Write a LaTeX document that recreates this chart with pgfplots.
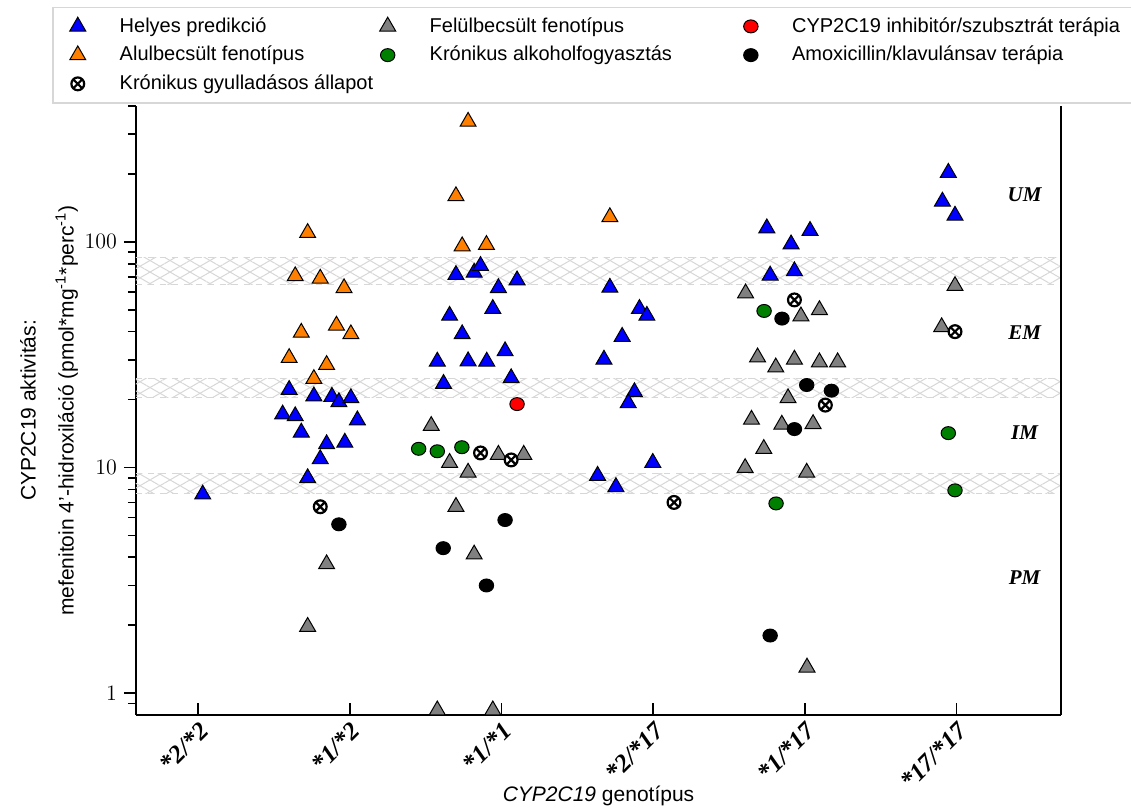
\documentclass[border=0pt]{standalone}
\usepackage{pgfplots}
\pgfplotsset{compat=1.18}
\usepackage{fontspec}
\setsansfont{Liberation Sans}
\newfontfamily\tserif{Liberation Serif}
\usetikzlibrary{patterns.meta}
\definecolor{cblue}{RGB}{0,0,255}
\definecolor{corange}{RGB}{255,128,0}
\definecolor{cgray}{RGB}{128,128,128}
\definecolor{cgreen}{RGB}{0,128,0}
\definecolor{cred}{RGB}{255,0,0}
\definecolor{bandc}{RGB}{215,215,215}
\begin{document}
\begin{tikzpicture}
\begin{axis}[
  scale only axis, width=462.5pt, height=304.5pt,
  ymode=log, ymin=0.8, ymax=400,
  xmin=-0.41, xmax=5.69,
  clip=false,
  axis x line*=bottom, axis y line*=left,
  axis line style={-, line width=1pt},
  xtick={0,1,2,3,4,5},
  xticklabels={*2/*2,*1/*2,*1/*1,*2/*17,*1/*17,*17/*17},
  xticklabel style={rotate=45, anchor=north east, font=\tserif\bfseries\itshape\fontsize{12.5}{14}\selectfont, inner sep=2pt},
  xtick align=inside, ytick align=outside,
  major tick length=6pt, minor tick length=4pt,
  every tick/.style={black, line width=0.8pt},
  ytick={1,10,100}, yticklabels={1,10,100},
  minor ytick={0.9,2,3,4,5,6,7,8,9,20,30,40,50,60,70,80,90,200,300,400},
  yticklabel style={font=\fontsize{11}{13}\selectfont},
  xlabel={\textit{CYP2C19} genotípus},
  xlabel style={at={(axis description cs:0.5,-0.133)}, anchor=center, font=\sffamily\fontsize{10.5}{12}\selectfont},
  ylabel={CYP2C19 aktivitás:\\mefenitoin 4'-hidroxiláció (pmol*mg\textsuperscript{-1}*perc\textsuperscript{-1})},
  ylabel style={at={(axis description cs:-0.094,0.5)}, anchor=center, align=center, font=\sffamily\fontsize{10.5}{19}\selectfont},
  legend columns=3,
  legend cell align=left,
  legend style={at={(axis description cs:-0.0908,1.163)}, anchor=north west, draw=bandc, line width=0.8pt,
    font=\sffamily\fontsize{10}{12}\selectfont, row sep=1.5pt, inner ysep=3pt, inner xsep=8.5pt,
    /tikz/every odd column/.append style={column sep=15pt}},
]
% bands
\addplot[draw=none, pattern={Lines[angle=30,distance=5pt,line width=0.5pt]}, pattern color=bandc, forget plot] coordinates {(-0.41,64.5) (5.69,64.5) (5.69,84.9) (-0.41,84.9)} -- cycle;
\addplot[draw=none, pattern={Lines[angle=-30,distance=5pt,line width=0.5pt]}, pattern color=bandc, forget plot] coordinates {(-0.41,64.5) (5.69,64.5) (5.69,84.9) (-0.41,84.9)} -- cycle;
\addplot[draw=bandc, dashed, line width=0.6pt, forget plot] coordinates {(-0.41,64.5) (5.69,64.5)};
\addplot[draw=bandc, dashed, line width=0.6pt, forget plot] coordinates {(-0.41,84.9) (5.69,84.9)};
\addplot[draw=none, pattern={Lines[angle=30,distance=5pt,line width=0.5pt]}, pattern color=bandc, forget plot] coordinates {(-0.41,20.4) (5.69,20.4) (5.69,24.8) (-0.41,24.8)} -- cycle;
\addplot[draw=none, pattern={Lines[angle=-30,distance=5pt,line width=0.5pt]}, pattern color=bandc, forget plot] coordinates {(-0.41,20.4) (5.69,20.4) (5.69,24.8) (-0.41,24.8)} -- cycle;
\addplot[draw=bandc, dashed, line width=0.6pt, forget plot] coordinates {(-0.41,20.4) (5.69,20.4)};
\addplot[draw=bandc, dashed, line width=0.6pt, forget plot] coordinates {(-0.41,24.8) (5.69,24.8)};
\addplot[draw=none, pattern={Lines[angle=30,distance=5pt,line width=0.5pt]}, pattern color=bandc, forget plot] coordinates {(-0.41,7.7) (5.69,7.7) (5.69,9.37) (-0.41,9.37)} -- cycle;
\addplot[draw=none, pattern={Lines[angle=-30,distance=5pt,line width=0.5pt]}, pattern color=bandc, forget plot] coordinates {(-0.41,7.7) (5.69,7.7) (5.69,9.37) (-0.41,9.37)} -- cycle;
\addplot[draw=bandc, dashed, line width=0.6pt, forget plot] coordinates {(-0.41,7.7) (5.69,7.7)};
\addplot[draw=bandc, dashed, line width=0.6pt, forget plot] coordinates {(-0.41,9.37) (5.69,9.37)};

% Helyes predikcio (blue)
\addplot[only marks, mark=triangle*, mark size=4.6pt, mark options={fill=cblue, draw=black, line width=0.5pt}] coordinates {
(0.03,7.6)
(0.60,22.1) (0.763,20.7) (0.882,20.6) (0.928,19.5) (1.007,20.3) (0.557,17.2) (0.64,16.9) (1.05,16.2)
(0.68,14.3) (0.847,12.7) (0.967,12.9) (0.805,10.9) (0.722,8.98)
(1.70,71.4) (1.82,73.1) (1.862,78.3) (2.103,67.6) (1.98,62.5) (1.943,50.5) (1.658,47.1) (1.741,39.0)
(2.024,32.8) (1.577,29.5) (1.78,29.6) (1.903,29.5) (2.064,24.9) (1.618,23.5)
(2.715,62.7) (2.91,50.5) (2.959,47.1) (2.796,38.0) (2.676,30.1) (2.877,21.6) (2.836,19.3) (2.998,10.5) (2.634,9.2) (2.755,8.2)
(3.75,115) (4.035,112) (3.91,97.6) (3.772,71) (3.932,74.2)
(4.947,202.6) (4.908,151) (4.991,130.8)
};
\addlegendentry{\makebox[128pt][l]{Helyes predikció}}
% Felulbecsult (gray)
\addplot[only marks, mark=triangle*, mark size=4.6pt, mark options={fill=cgray, draw=black, line width=0.5pt}] coordinates {
(0.847,3.73) (0.722,1.97)
(1.537,15.3) (1.98,11.4) (2.147,11.4) (1.658,10.5) (1.78,9.5) (1.70,6.7) (1.82,4.12) (1.577,0.84) (1.943,0.84)
(3.61,59.2) (3.975,46.8) (4.097,49.9) (3.689,30.8) (3.809,27.8) (3.932,30.1) (4.097,29.3) (4.217,29.3)
(3.89,20.3) (3.649,16.3) (3.849,15.5) (4.055,15.6) (3.73,12.1) (3.607,9.96) (4.013,9.5) (4.015,1.30)
(4.991,63.8) (4.903,41.9)
};
\addlegendentry{\makebox[155pt][l]{Felülbecsült fenotípus}}
% CYP2C19 inhibitor (red)
\addplot[only marks, mark=*, mark size=3.6pt, mark options={fill=cred, draw=black, line width=0.5pt, yscale=0.9}] coordinates {
(2.103,19.1)
};
\addlegendentry{CYP2C19 inhibitór/szubsztrát terápia}
% Alulbecsult (orange)
\addplot[only marks, mark=triangle*, mark size=4.6pt, mark options={fill=corange, draw=black, line width=0.5pt}] coordinates {
(0.722,109.6) (0.64,70.5) (0.805,68.8) (0.962,62.4) (0.68,39.6) (0.912,42.6) (1.007,39.0) (0.60,30.6) (0.847,28.5) (0.763,24.7)
(1.78,341) (1.70,159.6) (1.741,95.7) (1.901,97)
(2.715,128.8)
};
\addlegendentry{\makebox[128pt][l]{Alulbecsült fenotípus}}
% alkohol (green)
\addplot[only marks, mark=*, mark size=3.6pt, mark options={fill=cgreen, draw=black, line width=0.5pt, yscale=0.9}] coordinates {
(1.454,12.1) (1.577,11.8) (1.739,12.3) (3.811,6.93) (3.732,49.4) (4.947,14.2) (4.991,7.92)
};
\addlegendentry{\makebox[155pt][l]{Krónikus alkoholfogyasztás}}
% amoxicillin (black)
\addplot[only marks, mark=*, mark size=3.6pt, mark options={fill=black, draw=black, line width=0.5pt, yscale=0.9}] coordinates {
(0.928,5.60) (2.024,5.85) (1.616,4.39) (1.901,3.0) (3.85,45.7) (4.013,23.2) (4.176,21.9) (3.932,14.8) (3.772,1.80)
};
\addlegendentry{Amoxicillin/klavulánsav terápia}
% gyulladasos (crossed)
\addplot[only marks, mark=otimes*, mark size=3.2pt, mark options={fill=white, draw=black, line width=1.1pt}] coordinates {
(0.805,6.70) (1.862,11.6) (2.064,10.8) (3.138,7.0) (3.932,55.3) (4.136,18.9) (4.991,40.0)
};
\addlegendentry{Krónikus gyulladásos állapot}

\node[font=\tserif\bfseries\itshape\fontsize{10.5}{12}\selectfont] at (axis cs:5.45,161) {UM};
\node[font=\tserif\bfseries\itshape\fontsize{10.5}{12}\selectfont] at (axis cs:5.45,39.6) {EM};
\node[font=\tserif\bfseries\itshape\fontsize{10.5}{12}\selectfont] at (axis cs:5.45,14.3) {IM};
\node[font=\tserif\bfseries\itshape\fontsize{10.5}{12}\selectfont] at (axis cs:5.45,3.24) {PM};
\draw[line width=1pt] (rel axis cs:1,0) -- (rel axis cs:1,1);
\end{axis}
\pgfresetboundingbox
\path[use as bounding box] ([shift={(-68pt,-47pt)}]current axis.south west) rectangle ([shift={(497.5pt,357.5pt)}]current axis.south west);
\end{tikzpicture}
\end{document}
